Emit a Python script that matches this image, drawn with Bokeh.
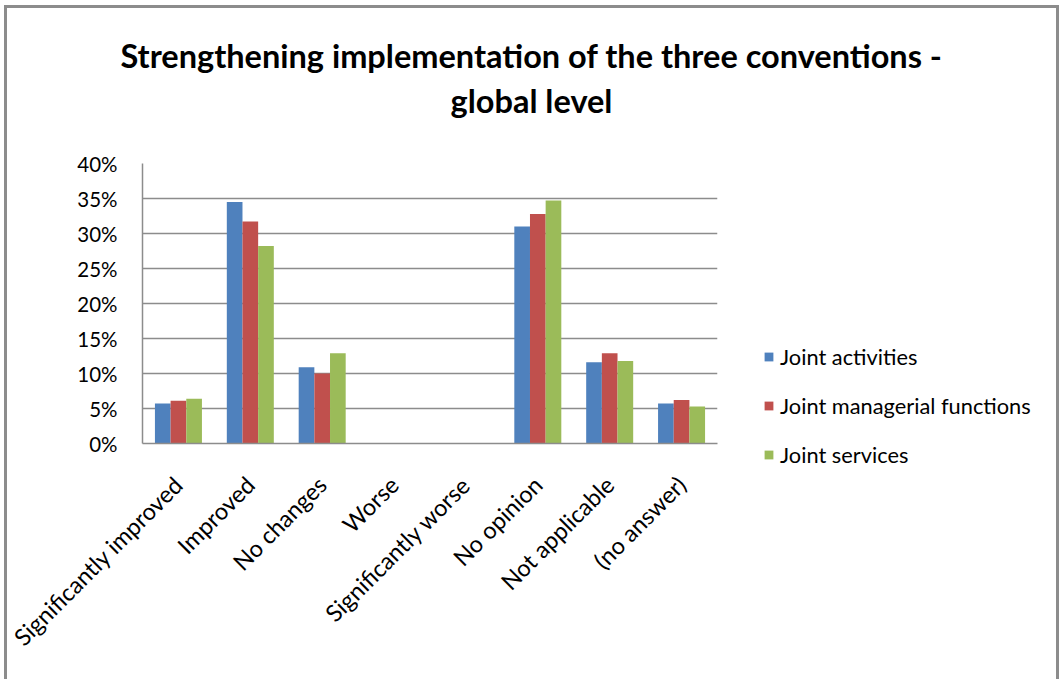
import math
from bokeh.plotting import figure
from bokeh.models import (ColumnDataSource, FixedTicker, PrintfTickFormatter,
                          Label, Legend, LegendItem, Range1d)
from bokeh.layouts import column, row
from bokeh.embed import file_html
from bokeh.resources import INLINE

# Survey answers and the share (in %) of respondents per cooperation type
categories = ["Significantly improved", "Improved", "No changes", "Worse",
              "Significantly worse", "No opinion", "Not applicable", "(no answer)"]
joint_activities = [5.7, 34.5, 10.9, 0.0, 0.0, 31.0, 11.6, 5.7]
joint_managerial = [6.1, 31.7, 10.0, 0.0, 0.0, 32.8, 12.9, 6.2]
joint_services = [6.4, 28.2, 12.9, 0.0, 0.0, 34.7, 11.8, 5.3]
series_names = ["Joint activities", "Joint managerial functions", "Joint services"]
series_colors = ["#4F81BD", "#C0504D", "#9BBB59"]
y_ticks = [0, 5, 10, 15, 20, 25, 30, 35, 40]
title_lines = ["Strengthening implementation of the three conventions -", "global level"]

FONT = "Lato"
GRID = "#8c8c8c"
TOTAL_W, TOTAL_H = 1049, 671
TITLE_H = 130
MAIN_W = 750


def bare(fig):
    fig.outline_line_color = None
    fig.xgrid.visible = False
    fig.ygrid.visible = False
    return fig


def independent(fig):
    # keep each panel's frame where its own borders put it
    if hasattr(fig, "frame_align"):
        fig.frame_align = False
    return fig


# ---- title strip (pixel-like coordinates, y grows downward) ----
pt = independent(bare(figure(width=TOTAL_W, height=TITLE_H, output_backend="svg",
                             toolbar_location=None, x_range=Range1d(0, TOTAL_W),
                             y_range=Range1d(TITLE_H, 0), x_axis_location=None,
                             y_axis_location=None, min_border=0)))
for txt, base in zip(title_lines, [47, 92]):
    pt.add_layout(Label(x=524, y=base, text=txt, text_align="center",
                        text_baseline="alphabetic", text_font=FONT,
                        text_font_style="bold", text_font_size="32.5px",
                        text_color="#000000"))

# ---- clustered bar chart ----
p = independent(figure(width=MAIN_W, height=TOTAL_H - TITLE_H, output_backend="svg",
                       toolbar_location=None,
                       x_range=Range1d(0, len(categories)), y_range=Range1d(0, 40),
                       min_border_left=135, min_border_right=40,
                       min_border_top=25, min_border_bottom=236))
p.outline_line_color = None

centers = [i + 0.5 for i in range(len(categories))]
bar_w = 0.218
offsets = [-bar_w, 0.0, bar_w]
for vals, off, col in zip([joint_activities, joint_managerial, joint_services],
                          offsets, series_colors):
    src = ColumnDataSource(dict(x=[c + off for c in centers], top=vals))
    p.vbar(x="x", top="top", width=bar_w, source=src,
           fill_color=col, line_color=None)

p.xgrid.grid_line_color = None
p.ygrid.grid_line_color = GRID
p.ygrid.grid_line_width = 1.5
p.ygrid.ticker = FixedTicker(ticks=y_ticks)

p.yaxis.ticker = FixedTicker(ticks=y_ticks)
p.yaxis.formatter = PrintfTickFormatter(format="%d%%")
p.yaxis.axis_line_color = GRID
p.yaxis.axis_line_width = 1.5
p.yaxis.major_tick_line_color = None
p.yaxis.minor_tick_line_color = None
p.yaxis.major_label_standoff = 19
p.yaxis.major_label_text_font = FONT
p.yaxis.major_label_text_font_size = "20.5px"
p.yaxis.major_label_text_color = "#000000"

p.xaxis.ticker = FixedTicker(ticks=centers)
p.xaxis.major_label_overrides = {c: name for c, name in zip(centers, categories)}
p.xaxis.major_label_orientation = math.pi / 4
p.xaxis.axis_line_color = GRID
p.xaxis.axis_line_width = 1.5
p.xaxis.major_tick_line_color = None
p.xaxis.minor_tick_line_color = None
p.xaxis.major_label_standoff = 31
p.xaxis.major_label_text_font = FONT
p.xaxis.major_label_text_font_size = "23.5px"
p.xaxis.major_label_text_color = "#000000"

# ---- legend panel ----
pl = independent(bare(figure(width=TOTAL_W - MAIN_W, height=TOTAL_H - TITLE_H,
                             output_backend="svg", toolbar_location=None,
                             x_range=Range1d(0, 1), y_range=Range1d(0, 1),
                             x_axis_location=None, y_axis_location=None,
                             min_border_left=6, min_border_top=205,
                             min_border_right=0, min_border_bottom=0)))
# zero-size stand-ins that only carry each series' colour into the legend
swatches = [pl.vbar(x=[0], top=[0], width=0, fill_color=c, line_color=None)
            for c in series_colors]
legend = Legend(items=[LegendItem(label=n, renderers=[r])
                       for n, r in zip(series_names, swatches)],
                location="top_left", orientation="vertical",
                glyph_width=11, glyph_height=11, label_standoff=6,
                label_height=24, spacing=22, padding=0, margin=0,
                border_line_color=None, background_fill_alpha=0,
                label_text_font=FONT, label_text_font_size="21.8px",
                label_text_color="#000000")
pl.add_layout(legend, "center")

layout = column(pt, row(p, pl),
                styles={"border-top": "3px solid #8c8c8c",
                        "border-left": "3px solid #8c8c8c",
                        "border-right": "3px solid #8c8c8c",
                        "margin-left": "4px", "margin-top": "5px"})

open("out.html", "w").write(file_html(layout, INLINE))
